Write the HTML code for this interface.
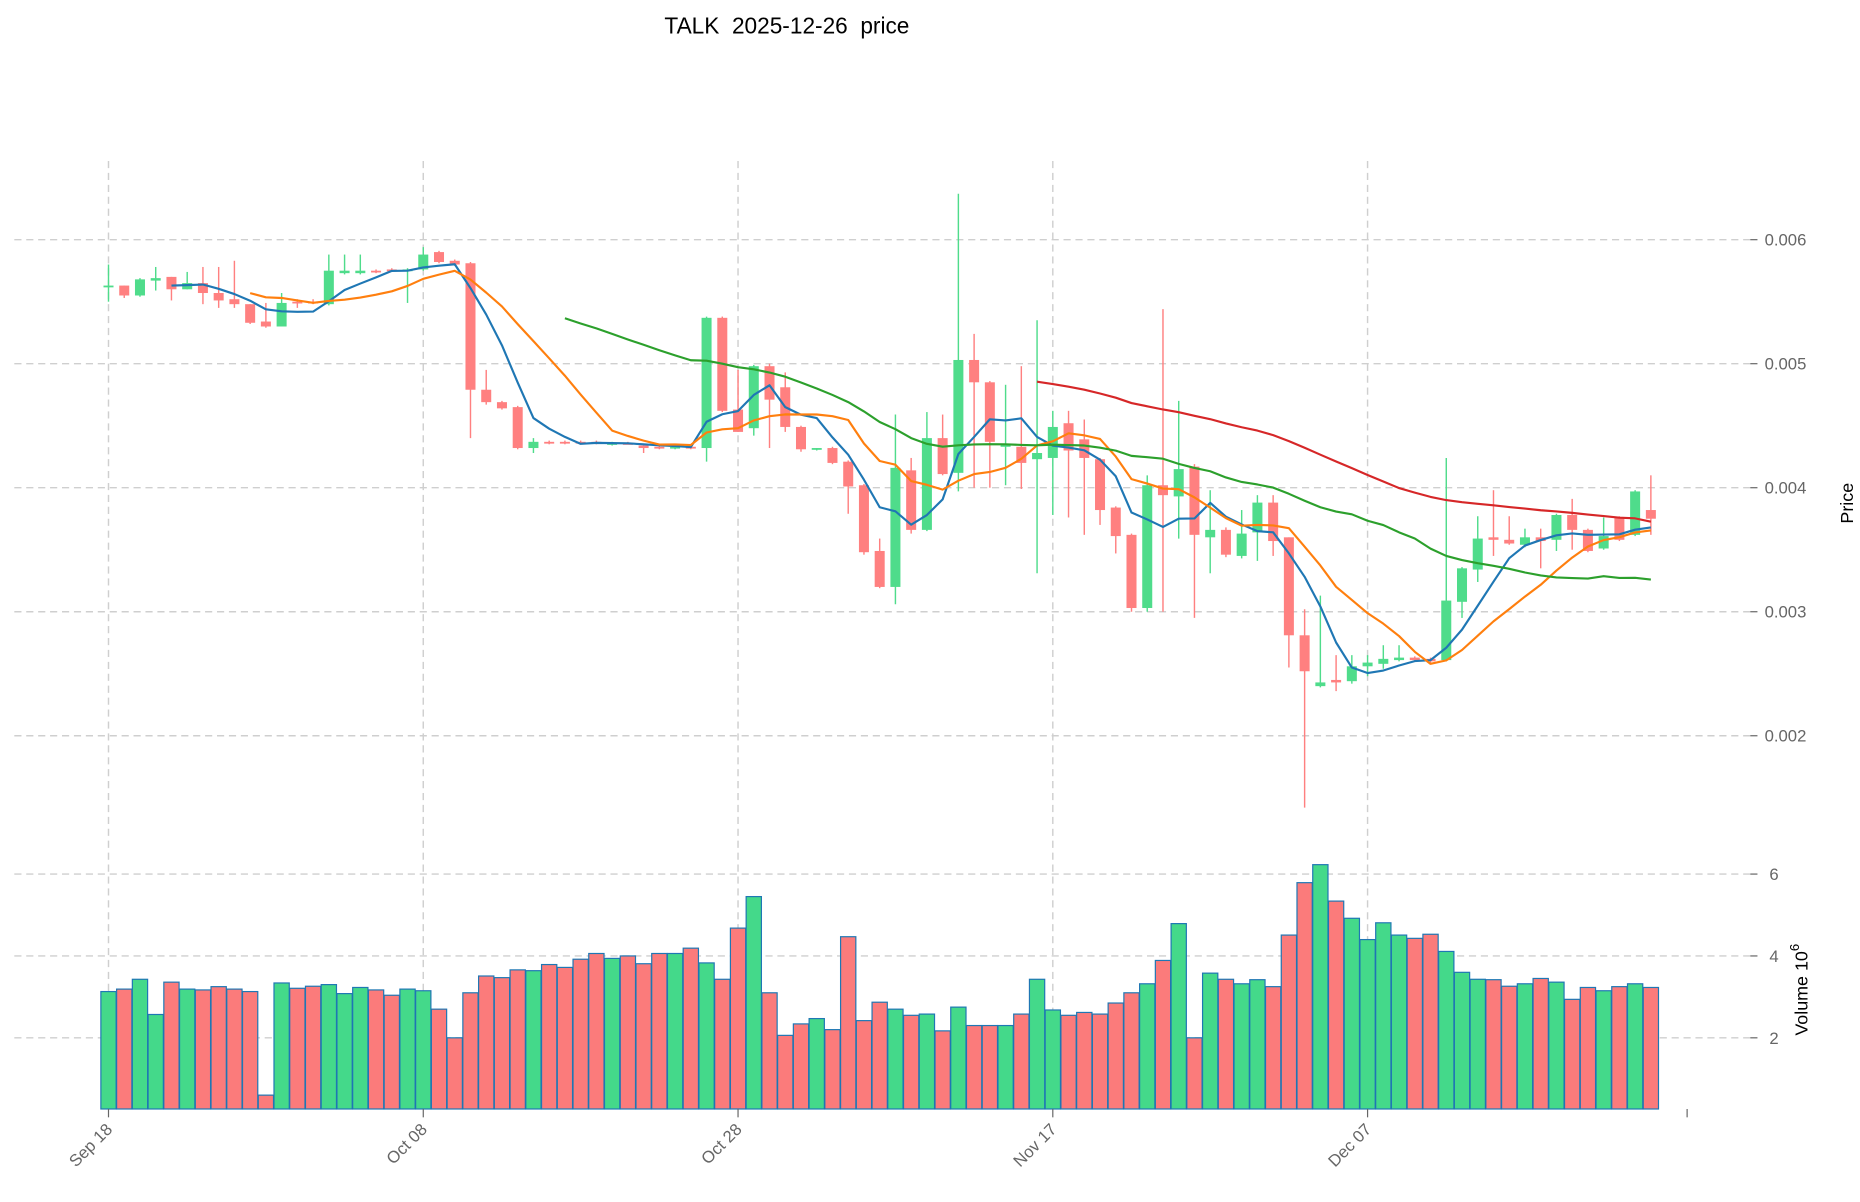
<!DOCTYPE html>
<html><head><meta charset="utf-8"><style>
html,body{margin:0;padding:0;background:#fff;}
svg{display:block;font-family:"Liberation Sans","DejaVu Sans",sans-serif;}
</style></head><body>
<svg id="chart" width="1860" height="1202" viewBox="0 0 1560 1008" preserveAspectRatio="none" xmlns="http://www.w3.org/2000/svg">
<text x="660" y="28" font-size="19" text-anchor="middle" fill="#000" style="white-space:pre" xml:space="preserve">TALK  2025-12-26  price</text>
<g id="grid"></g>
<g id="vol"></g>
<g id="candles"></g>
<g id="mas"></g>
<g id="axes"></g>
<text x="1554" y="422" font-size="15" text-anchor="middle" transform="rotate(-90 1554 422)" fill="#000">Price</text>
<text x="1516" y="830" font-size="15" text-anchor="middle" transform="rotate(-90 1516 830)" fill="#000">Volume  10<tspan dy="-7" font-size="11">6</tspan></text>
</svg>
<script>
const opens=[.00563,.00563,.00555,.00567,.0057,.0056,.00565,.00557,.00552,.00548,.00534,.0053,.0055,.0055,.00548,.00573,.00573,.00575,.00576,.00575,.00576,.0059,.00583,.00581,.00479,.00469,.00465,.00432,.00437,.00437,.00437,.00437,.00435,.00436,.00434,.00433,.00432,.00433,.00432,.00537,.00463,.00448,.00498,.00481,.00449,.00431,.00432,.00421,.00402,.00349,.0032,.00414,.00366,.0044,.00412,.00503,.00485,.00433,.00433,.00423,.00424,.00452,.00439,.00423,.00384,.00362,.00303,.00402,.00393,.00417,.0036,.00366,.00345,.00364,.00388,.0036,.00281,.0024,.00245,.00244,.00256,.00258,.00261,.00263,.00262,.00261,.00308,.00334,.0036,.00358,.00354,.0036,.00358,.00378,.00366,.00351,.00376,.00362,.00382];
const highs=[.0058,.00563,.00569,.00578,.0057,.00574,.00578,.00578,.00583,.00548,.00549,.00557,.00552,.00552,.00588,.00588,.00588,.00576,.00577,.00577,.00594,.00591,.00584,.00582,.00495,.0047,.00466,.0044,.00438,.00438,.00438,.00438,.00437,.00437,.00435,.00434,.00434,.00434,.00538,.00538,.00495,.00499,.005,.00493,.0045,.00432,.00433,.00422,.00403,.00359,.00459,.00424,.00461,.00459,.00637,.00524,.00486,.00483,.00498,.00535,.00462,.00462,.00455,.00424,.00385,.00363,.0041,.00544,.0047,.00419,.00398,.00368,.00382,.00394,.00394,.0036,.00302,.00313,.00265,.00265,.00265,.00273,.00273,.00264,.00263,.00424,.00336,.00377,.00398,.00377,.00367,.00367,.00379,.00391,.00367,.00376,.00377,.00398,.0041];
const lows=[.0055,.00553,.00554,.00559,.00551,.0056,.00548,.00545,.00545,.00532,.00529,.0053,.00545,.00548,.00547,.00572,.00572,.00573,.00574,.00549,.00575,.00581,.00579,.0044,.00467,.00463,.00431,.00428,.00435,.00435,.00435,.00435,.00434,.00435,.00428,.00431,.00431,.00431,.00421,.00461,.00445,.00442,.00432,.00445,.00429,.0043,.00419,.00379,.00346,.00319,.00306,.00363,.00365,.0041,.00397,.004,.004,.00402,.00399,.00331,.00378,.00376,.00362,.0037,.00347,.003,.003,.003,.00359,.00295,.00331,.00344,.00343,.00341,.00345,.00255,.00142,.00239,.00236,.00242,.00248,.00254,.0026,.0026,.00259,.0026,.00295,.00324,.00345,.00354,.00352,.00335,.00349,.0035,.00348,.0035,.00357,.00361,.00362];
const closes=[.00563,.00555,.00568,.00569,.0056,.00565,.00557,.00551,.00548,.00533,.0053,.00549,.00549,.00549,.00575,.00575,.00575,.00574,.00575,.00576,.00588,.00582,.0058,.00479,.00469,.00464,.00432,.00437,.00436,.00436,.00436,.00436,.00436,.00435,.00432,.00432,.00433,.00432,.00537,.00462,.00445,.00498,.00471,.00449,.00431,.00432,.0042,.00401,.00348,.0032,.00416,.00366,.0044,.00411,.00503,.00485,.00437,.00435,.0042,.00428,.00449,.0043,.00424,.00382,.00361,.00303,.00402,.00394,.00415,.00362,.00366,.00346,.00363,.00388,.00357,.00281,.00252,.00243,.00243,.00256,.00259,.00262,.00263,.00261,.0026,.00309,.00335,.00359,.00358,.00355,.0036,.00357,.00378,.00366,.00349,.00361,.00358,.00397,.00375];
const volumes=[3.13,3.19,3.43,2.57,3.36,3.19,3.17,3.25,3.19,3.13,0.6,3.34,3.21,3.26,3.3,3.08,3.23,3.17,3.04,3.19,3.15,2.7,2.0,3.1,3.51,3.47,3.66,3.64,3.79,3.72,3.92,4.06,3.94,4.0,3.81,4.06,4.06,4.19,3.83,3.43,4.68,5.45,3.1,2.06,2.34,2.47,2.2,4.47,2.42,2.87,2.7,2.55,2.58,2.17,2.75,2.3,2.3,2.3,2.58,3.43,2.68,2.55,2.62,2.58,2.85,3.1,3.32,3.89,4.79,2.0,3.58,3.43,3.32,3.42,3.25,4.51,5.79,6.23,5.34,4.92,4.4,4.81,4.51,4.43,4.53,4.11,3.6,3.43,3.42,3.26,3.32,3.45,3.36,2.94,3.23,3.15,3.25,3.32,3.23];
const dateLabels=["Sep 18","Oct 08","Oct 28","Nov 17","Dec 07"];
const dateIdx=[0,20,40,60,80];
const priceTicks=[0.002,0.003,0.004,0.005,0.006];
const volTicks=[2,4,6];
const maPeriods=[5,10,30,60];
const maColors=["#1f77b4","#ff7f0e","#2ca02c","#d62728"];

const NS="http://www.w3.org/2000/svg";
const X=i=>91+13.2*i;
const PY=p=>201+(0.006-p)*104000;
const VY=v=>733+(6-v)*34.33;
const VBOT=930;
const UP="#4fdc8b",DN="#ff8080";
function mk(parent,tag,attrs){const e=document.createElementNS(NS,tag);for(const k in attrs)e.setAttribute(k,attrs[k]);parent.appendChild(e);return e;}
const grid=document.getElementById('grid'),axes=document.getElementById('axes');
priceTicks.forEach((t,k)=>{
  const y=PY(t);
  const g=mk(grid,'line',{x1:12,x2:1470,y1:y,y2:y,stroke:'#cfcfcf','stroke-dasharray':'6,4','stroke-width':1.2});
  
  
  const tk=mk(axes,'line',{x1:1468,x2:1474,y1:y,y2:y,stroke:'#666'});
  
  
  const tx=mk(axes,'text',{x:1480,y:y+5,'font-size':14,fill:'#666'});
  tx.textContent=t.toFixed(3);
  
  
});
volTicks.forEach(t=>{
  const y=VY(t);
  const g=mk(grid,'line',{x1:12,x2:1470,y1:y,y2:y,stroke:'#cfcfcf','stroke-dasharray':'6,4','stroke-width':1.2});
  
  
  const tk=mk(axes,'line',{x1:1468,x2:1474,y1:y,y2:y,stroke:'#666'});
  
  
  const tx=mk(axes,'text',{x:1484,y:y+5,'font-size':14,fill:'#666'});
  tx.textContent=String(t);
  
  
});
dateIdx.forEach((d,k)=>{
  const x=X(d);
  const g=mk(grid,'line',{x1:x,x2:x,y1:135,y2:930,stroke:'#cfcfcf','stroke-dasharray':'6,4','stroke-width':1.2});
  
  
  const tk=mk(axes,'line',{x1:x,x2:x,y1:930,y2:937,stroke:'#666'});
  
  
  const tx=mk(axes,'text',{x:x+4,y:948,'font-size':14,fill:'#666','text-anchor':'end',transform:`rotate(-45 ${x+4} 948)`});
  tx.textContent=dateLabels[k];
  
  
});
const et=mk(axes,'line',{x1:1415,x2:1415,y1:930,y2:937,stroke:'#666'});



const vol=document.getElementById('vol'),cg=document.getElementById('candles');
closes.forEach((c,i)=>{
  const o=opens[i],up=c>=o,col=up?UP:DN,x=X(i);
  const vy=VY(volumes[i]);
  const b=mk(vol,'rect',{x:x-6.4,y:vy,width:12.8,height:VBOT-vy,fill:up?'#44d98a':'#fb7b7b',stroke:'#1f77b4','stroke-width':1});
  
  
  const w=mk(cg,'line',{x1:x,x2:x,y1:PY(highs[i]),y2:PY(lows[i]),stroke:col,'stroke-width':1.2});
  
  
  const top=PY(Math.max(o,c)),bot=PY(Math.min(o,c));
  const r=mk(cg,'rect',{x:x-4.2,y:top,width:8.4,height:Math.max(bot-top,1.5),fill:col});
  
  
});
const mas=document.getElementById('mas');
maPeriods.forEach((n,k)=>{
  let pts=[];
  for(let i=n-1;i<closes.length;i++){let s=0;for(let j=i-n+1;j<=i;j++)s+=closes[j];pts.push(X(i).toFixed(1)+','+PY(s/n).toFixed(1));}
  const pl=mk(mas,'polyline',{points:pts.join(' '),fill:'none',stroke:maColors[k],'stroke-width':1.8,'stroke-linejoin':'round'});
  
  
});
</script>
</body></html>
